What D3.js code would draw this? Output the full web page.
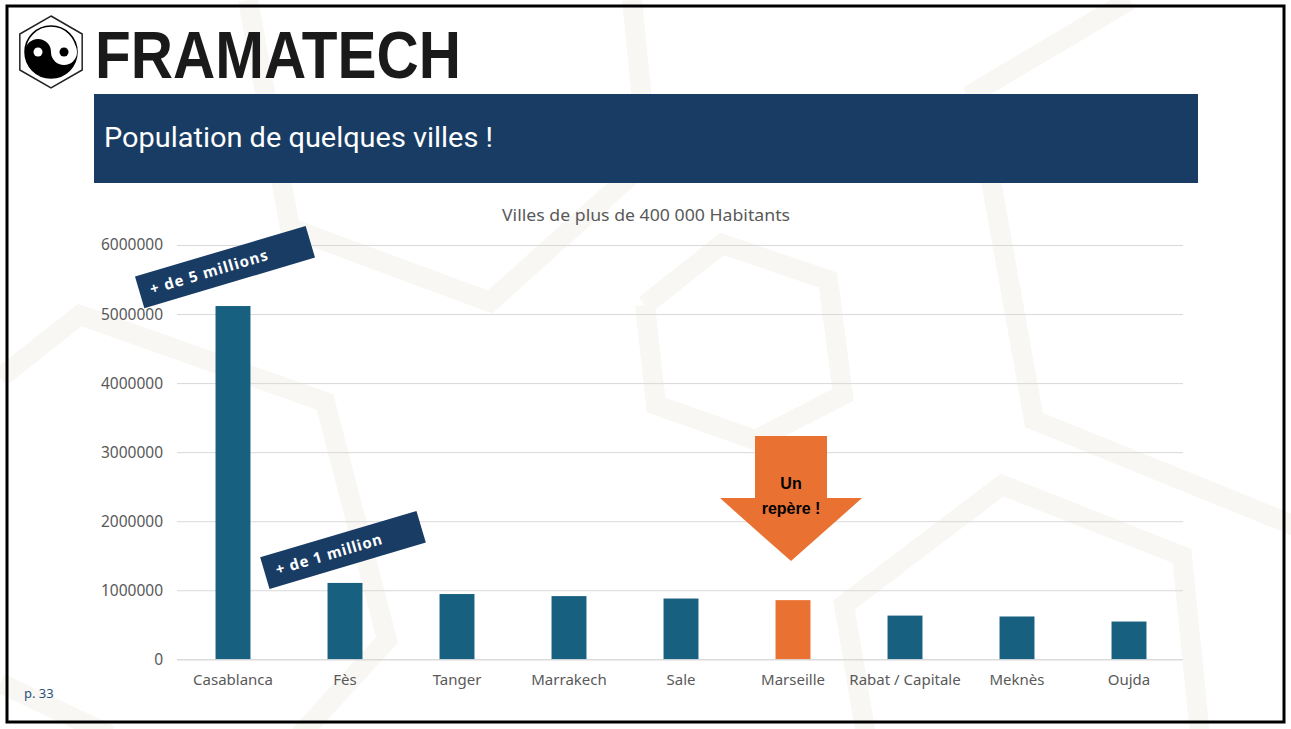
<!DOCTYPE html>
<html><head><meta charset="utf-8">
<script src="https://cdn.jsdelivr.net/npm/d3@7"></script>
<style>html,body{margin:0;padding:0;background:#fff;overflow:hidden}</style>
</head><body>
<svg id="c" width="1291" height="729"></svg>
<script>
// ---- data ----
const categories = ["Casablanca","Fès","Tanger","Marrakech","Sale","Marseille","Rabat / Capitale","Meknès","Oujda"];
const population = [5116000,1106000,945000,915000,880000,857000,633000,620000,547000];
const highlighted = ["Marseille"];
const yTicks = [0,1000000,2000000,3000000,4000000,5000000,6000000];
const slideTitle = "Population de quelques villes !";
const chartTitle = "Villes de plus de 400 000 Habitants";
const bannerTexts = ["+ de 5 millions","+ de 1 million"];
const bannerCities = ["Casablanca","Fès"];
const arrowText = ["Un","repère !"];
const pageLabel = "p. 33";

const svg = d3.select("#c");
const W = 1291, H = 729;
const blue = "#18607f", orange = "#e97132", navy = "#193c64", grey = "#595959";

svg.append("rect").attr("width",W).attr("height",H).attr("fill","#fff");

// decorative honeycomb background
const bgLines = [
  [[248,0],[290,228],[490,302],[648,160],[632,0]],
  [[0,378],[80,315],[325,402],[387,640],[300,735]],
  [[0,683],[110,735]],
  [[645,305],[722,244],[828,280],[843,395],[755,440],[656,405],[645,305]],
  [[1130,0],[975,92],[1034,420],[1300,528]],
  [[866,735],[844,605],[1002,485],[1182,556],[1200,735]]
];
svg.append("g").selectAll("path").data(bgLines).join("path")
  .attr("d", d3.line())
  .attr("fill","none").attr("stroke","#f8f7f3").attr("stroke-width",20)
  .attr("stroke-linejoin","miter");

// frame
svg.append("rect").attr("x",7).attr("y",6).attr("width",1277).attr("height",716)
  .attr("fill","none").attr("stroke","#000").attr("stroke-width",3);

// logo
const lg = svg.append("g");
const lcx = 51, lcy = 52, hr = 36;
const hex = d3.range(6).map(i => {
  const a = Math.PI/180*(60*i - 90);
  return [lcx + hr*Math.cos(a), lcy + hr*Math.sin(a)];
});
lg.append("polygon").attr("points", hex.map(p=>p.join(",")).join(" "))
  .attr("fill","#fff").attr("stroke","#222").attr("stroke-width",1.5);
const R = 26;
lg.append("circle").attr("cx",lcx).attr("cy",lcy).attr("r",R).attr("fill","#fff").attr("stroke","#000").attr("stroke-width",1.5);
lg.append("path").attr("d",`M${lcx-R},${lcy} A${R},${R} 0 0 0 ${lcx+R},${lcy} Z`).attr("fill","#000");
lg.append("circle").attr("cx",lcx-R/2).attr("cy",lcy).attr("r",R/2).attr("fill","#000");
lg.append("circle").attr("cx",lcx+R/2).attr("cy",lcy).attr("r",R/2).attr("fill","#fff");
lg.append("circle").attr("cx",lcx-R/2).attr("cy",lcy).attr("r",4.5).attr("fill","#fff");
lg.append("circle").attr("cx",lcx+R/2).attr("cy",lcy).attr("r",4.5).attr("fill","#000");
svg.append("text").attr("x",95).attr("y",78).text("FRAMATECH")
  .attr("font-family","Liberation Sans, Arial, sans-serif").attr("font-weight","bold")
  .attr("font-size",66).attr("fill","#1a1a1a")
  .attr("textLength",366).attr("lengthAdjust","spacingAndGlyphs");

// title bar
svg.append("rect").attr("x",94).attr("y",94).attr("width",1104).attr("height",89).attr("fill",navy);
svg.append("text").attr("x",104).attr("y",147).text(slideTitle)
  .attr("font-family","Roboto, sans-serif").attr("font-size",28).attr("fill","#fff")
  .attr("textLength",389).attr("lengthAdjust","spacingAndGlyphs");

// chart
const x = d3.scaleBand().domain(categories).range([177,1185]).paddingInner(0.688).paddingOuter(0.344);
const y = d3.scaleLinear().domain([0,6000000]).range([659.3,245]);
const font = "Noto Sans, sans-serif";

svg.append("text").attr("x",646).attr("y",221).attr("text-anchor","middle").text(chartTitle)
  .attr("font-family",font).attr("font-size",16).attr("fill",grey)
  .attr("textLength",288).attr("lengthAdjust","spacingAndGlyphs");

const yAxis = svg.append("g").attr("transform","translate(177,0)")
  .call(d3.axisLeft(y).tickValues(yTicks).tickFormat(d3.format("d")).tickSize(-1006).tickPadding(14));
yAxis.select(".domain").remove();
yAxis.selectAll(".tick line").attr("stroke","#d9d9d9").attr("stroke-width",1);
yAxis.selectAll(".tick text").attr("font-family",font).attr("font-size",15.5).attr("fill",grey);

svg.append("g").selectAll("rect").data(categories).join("rect")
  .attr("x", d => x(d)).attr("width", x.bandwidth())
  .attr("y", (d,i) => y(population[i])).attr("height", (d,i) => y(0) - y(population[i]))
  .attr("fill", d => highlighted.includes(d) ? orange : blue);

const xAxis = svg.append("g").attr("transform",`translate(0,${y(0)})`)
  .call(d3.axisBottom(x).tickSize(0).tickPadding(15));
xAxis.select(".domain").attr("stroke","#d9d9d9").attr("d","M177,0.5H1183");
xAxis.selectAll(".tick text").attr("font-family",font).attr("font-size",15).attr("fill",grey);

// banners
const bannerW = [178,163], bannerOff = [[-8,-39,-17],[-2,-33,-15]];
bannerCities.forEach((c,i) => {
  const vi = categories.indexOf(c);
  const cx = x(c) + x.bandwidth()/2 + bannerOff[i][0];
  const cy = y(population[vi]) + bannerOff[i][1];
  const g = svg.append("g").attr("transform",`translate(${cx},${cy}) rotate(-16.5)`);
  g.append("rect").attr("x",-bannerW[i]/2).attr("y",-16.5).attr("width",bannerW[i]).attr("height",33).attr("fill",navy);
  g.append("text").attr("x",bannerOff[i][2]).attr("y",0).attr("dy","0.36em")
    .attr("text-anchor","middle").text(bannerTexts[i])
    .attr("font-family",font).attr("font-weight","bold").attr("font-size",15).attr("fill","#fff")
    .attr("textLength", i===0 ? 122 : 110);
});

// arrow
const mi = categories.indexOf("Marseille");
const ax = x("Marseille") + x.bandwidth()/2 - 2;
const tipY = y(population[mi]) - 39;
const ag = svg.append("g").attr("transform",`translate(${ax},${tipY})`);
ag.append("polygon").attr("points",[[-36,-125],[36,-125],[36,-63],[71,-63],[0,0],[-71,-63],[-36,-63]].map(p=>p.join(",")).join(" "))
  .attr("fill",orange);
arrowText.forEach((t,i) => {
  ag.append("text").attr("x",0).attr("y",-72 + i*25).attr("text-anchor","middle").text(t)
    .attr("font-family","Liberation Sans, Arial, sans-serif").attr("font-weight","bold").attr("font-size",16).attr("fill","#000");
});

// page label
svg.append("text").attr("x",24).attr("y",698).text(pageLabel)
  .attr("font-family",font).attr("font-size",13).attr("fill","#2b4f7d");
</script>
</body></html>
